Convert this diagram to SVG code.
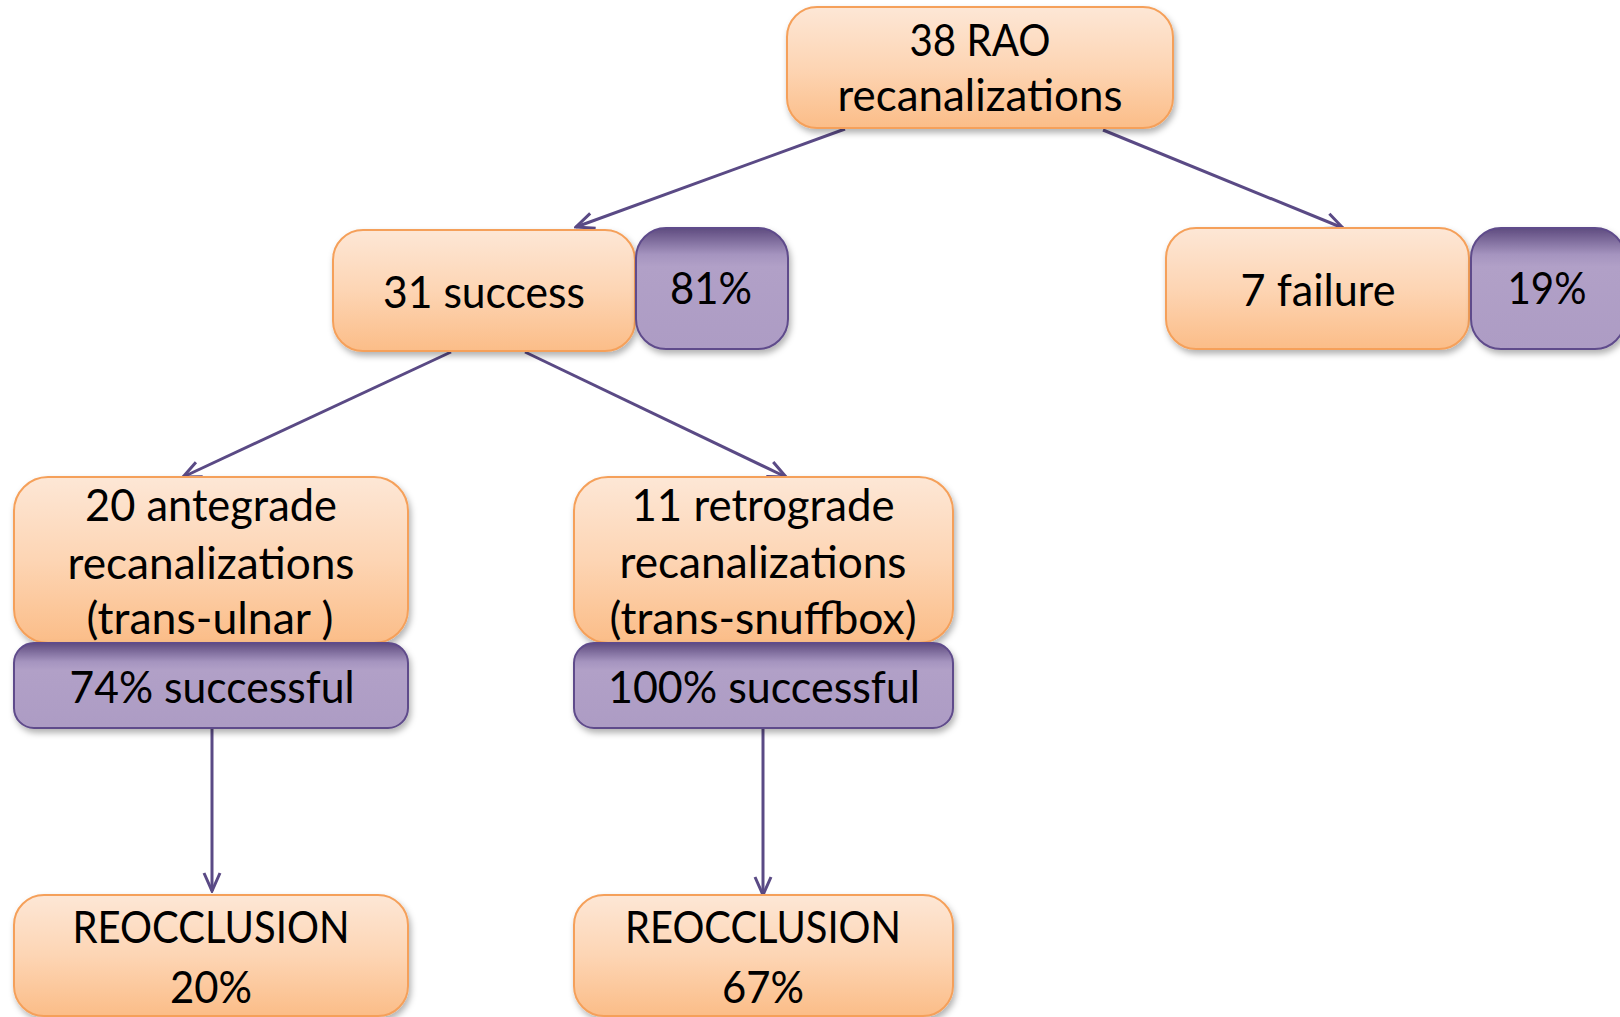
<svg xmlns="http://www.w3.org/2000/svg" width="1620" height="1017" viewBox="0 0 1620 1017">
<defs>
<linearGradient id="og" x1="0" y1="0" x2="0" y2="1">
<stop offset="0" stop-color="#fde7d6"/>
<stop offset="0.5" stop-color="#fdd5b4"/>
<stop offset="1" stop-color="#fbbd88"/>
</linearGradient>
<linearGradient id="pg" x1="0" y1="0" x2="0" y2="1">
<stop offset="0" stop-color="#5e4b7f"/>
<stop offset="0.22" stop-color="#a594bf"/>
<stop offset="0.32" stop-color="#b1a0c7"/>
<stop offset="1" stop-color="#ad9cc4"/>
</linearGradient>
<filter id="sh" x="-10%" y="-10%" width="125%" height="130%">
<feDropShadow dx="2" dy="4" stdDeviation="3" flood-color="#000" flood-opacity="0.3"/>
</filter>
<marker id="ah" viewBox="0 0 22 22" refX="20" refY="11" markerWidth="22" markerHeight="22" markerUnits="userSpaceOnUse" orient="auto">
<path d="M2,3 L20,11 L2,19" fill="none" stroke="#5a4a85" stroke-width="3"/>
</marker>
<style>
.o{fill:url(#og);stroke:#f5a05a;stroke-width:2;filter:url(#sh)}
.p{fill:url(#pg);stroke:#5f4b8b;stroke-width:2;filter:url(#sh)}
text{font-family:Lato,"Open Sans","Liberation Sans",sans-serif;font-size:44px;fill:#000;text-anchor:middle}
.c{fill:none;stroke:#5a4a85;stroke-width:3;marker-end:url(#ah)}
</style>
</defs>
<g id="connectors">
<line class="c" x1="845" y1="129" x2="576" y2="227"/>
<line class="c" x1="1103" y1="130" x2="1343" y2="228"/>
<line class="c" x1="451" y1="352" x2="183" y2="477"/>
<line class="c" x1="525" y1="352" x2="786" y2="477"/>
<line class="c" x1="212" y1="729" x2="212" y2="891"/>
<line class="c" x1="763" y1="729" x2="763" y2="895"/>
</g>
<g id="root">
<rect class="o" x="787" y="7" width="386" height="121" rx="30"/>
<text x="980" y="56" textLength="141" lengthAdjust="spacingAndGlyphs">38 RAO</text>
<text x="980" y="111" textLength="285" lengthAdjust="spacingAndGlyphs">recanalizations</text>
</g>
<g id="success">
<rect class="o" x="333" y="230" width="302" height="121" rx="30"/>
<text x="484" y="308" textLength="202" lengthAdjust="spacingAndGlyphs">31 success</text>
</g>
<g id="success-pct">
<rect class="p" x="636" y="228" width="152" height="121" rx="30"/>
<text x="711" y="304" textLength="82" lengthAdjust="spacingAndGlyphs">81%</text>
</g>
<g id="failure">
<rect class="o" x="1166" y="228" width="303" height="121" rx="30"/>
<text x="1318" y="306" textLength="155" lengthAdjust="spacingAndGlyphs">7 failure</text>
</g>
<g id="failure-pct">
<rect class="p" x="1471" y="228" width="154" height="121" rx="30"/>
<text x="1547" y="304" textLength="79" lengthAdjust="spacingAndGlyphs">19%</text>
</g>
<g id="antegrade">
<rect class="o" x="14" y="477" width="394" height="166" rx="34"/>
<text x="211" y="521" textLength="252" lengthAdjust="spacingAndGlyphs">20 antegrade</text>
<text x="211" y="579" textLength="287" lengthAdjust="spacingAndGlyphs">recanalizations</text>
<text x="210" y="634" textLength="247" lengthAdjust="spacingAndGlyphs">(trans-ulnar )</text>
</g>
<g id="antegrade-pct">
<rect class="p" x="14" y="643" width="394" height="85" rx="20"/>
<text x="212" y="703" textLength="285" lengthAdjust="spacingAndGlyphs">74% successful</text>
</g>
<g id="retrograde">
<rect class="o" x="574" y="477" width="379" height="166" rx="34"/>
<text x="763" y="521" textLength="263" lengthAdjust="spacingAndGlyphs">11 retrograde</text>
<text x="763" y="578" textLength="287" lengthAdjust="spacingAndGlyphs">recanalizations</text>
<text x="763" y="634" textLength="307" lengthAdjust="spacingAndGlyphs">(trans-snuffbox)</text>
</g>
<g id="retrograde-pct">
<rect class="p" x="574" y="643" width="379" height="85" rx="20"/>
<text x="764" y="703" textLength="312" lengthAdjust="spacingAndGlyphs">100% successful</text>
</g>
<g id="reocclusion-ante">
<rect class="o" x="14" y="895" width="394" height="121" rx="30"/>
<text x="211" y="943" textLength="277" lengthAdjust="spacingAndGlyphs">REOCCLUSION</text>
<text x="211" y="1003" textLength="82" lengthAdjust="spacingAndGlyphs">20%</text>
</g>
<g id="reocclusion-retro">
<rect class="o" x="574" y="895" width="379" height="121" rx="30"/>
<text x="763" y="943" textLength="276" lengthAdjust="spacingAndGlyphs">REOCCLUSION</text>
<text x="763" y="1003" textLength="82" lengthAdjust="spacingAndGlyphs">67%</text>
</g>
</svg>
